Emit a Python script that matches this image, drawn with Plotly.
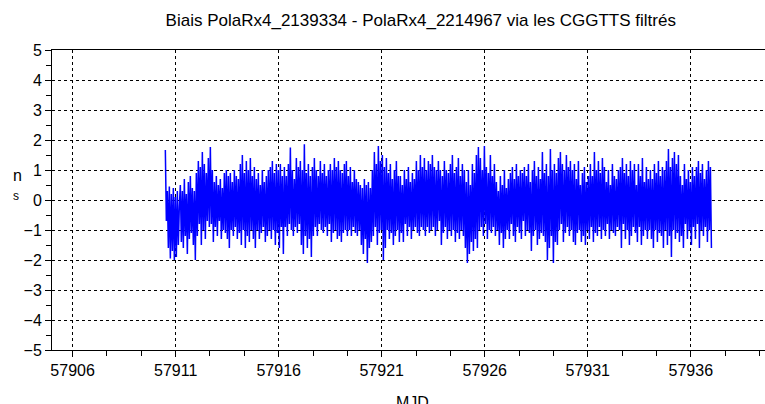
import numpy as np
import plotly.graph_objects as go

# --- data ---
title_text = "Biais PolaRx4_2139334 - PolaRx4_2214967 via les CGGTTS filtrés"
x_label = "MJD"
y_label_top = "n"
y_label_bottom = "s"
mjd_start = 57910.5
mjd_end = 57937.0
x_tick_values = [57906, 57911, 57916, 57921, 57926, 57931, 57936]
y_tick_values = [-5, -4, -3, -2, -1, 0, 1, 2, 3, 4, 5]

bias_ns = [
    1.67, -0.70, 0.30, -1.60, 0.45, -1.95, 0.20, -1.70, 0.40, -2.00,
    0.10, -1.90, 0.30, -1.50, -0.20,
    0.50, -1.40, 0.30, -1.60, 0.70, -1.20, 0.20, -1.80, 0.60, -1.30, 0.80, -1.10, 0.40, -1.50, 0.30,
    -2.00, 0.90, -1.20, 1.30, -0.80, 1.10, -1.50, 1.60, -1.00, 1.20, -1.30, 0.90, -0.70, 1.40, -0.90,
    1.77, -0.80, 1.00, -1.40, 0.60, -0.90, 0.80, -1.20, 0.50, -0.70, 0.70, -1.30, 0.40, -1.00, 0.90,
    -1.10, 1.00, -1.30, 0.80, -1.60, 0.90, -1.00, 0.60, -1.20, 1.00, -0.90, 0.80, -1.30, 0.70, -1.10,
    1.20, -1.50, 1.50, -1.00, 0.90, -1.60, 1.30, -1.20, 1.00, -1.40, 1.40, -1.00, 0.80, -1.30, 1.10,
    -1.60, 0.70, -1.00, 0.90, -1.30, 0.50, -1.10, 1.00, -0.90, 0.60, -1.40, 0.80, -1.20, 1.00, -1.00,
    1.10, -1.30, 1.30, -1.00, 0.90, -1.50, 1.20, -1.10, 1.00, -1.60, 1.20, -0.90, 0.80, -1.80, 1.10,
    -0.90, 0.80, -1.20, 1.20, -0.80, 1.75, -1.00, 1.00, -1.20, 0.70, -0.90, 1.40, -1.10, 1.10, -0.80,
    1.30, -1.50, 1.00, -1.80, 1.86, -1.20, 0.90, -1.60, 1.20, -1.30, 0.80, -1.90, 1.10, -1.20, 1.40,
    -0.90, 1.00, -1.20, 0.80, -0.80, 1.30, -1.00, 0.90, -1.10, 1.20, -0.90, 0.80, -1.20, 1.00, -0.80,
    1.20, -1.40, 1.00, -1.10, 1.40, -1.00, 1.10, -1.30, 1.30, -1.20, 1.00, -1.40, 0.90, -1.10, 1.20,
    -1.00, 1.30, -1.20, 0.80, -1.00, 1.10, -1.20, 0.60, -0.90, 1.00, -1.10, 0.70, -1.20, 0.60, -1.00,
    0.50, -1.50, 0.40, -1.80, 0.70, -1.30, 0.50, -2.10, 0.60, -1.60, 0.40, -1.40,
    1.00, -1.20, 1.60, -0.90, 1.20, -1.50, 1.80, -1.10, 1.30, -1.00, 1.50, -2.00, 1.10,
    -1.60, 1.40, -1.00, 0.90, -1.30, 1.20, -1.10, 0.70, -1.50, 1.00, -1.20, 1.30, -1.00, 0.80, -1.40,
    0.80, -1.10, 0.50, -1.40, 1.00, -0.80, 0.70, -1.20, 1.10, -0.90, 0.60, -1.30, 0.90, -1.00, 0.70,
    -0.90, 1.30, -1.10, 1.00, -1.20, 1.50, -0.90, 1.10, -1.00, 1.40, -1.20, 1.00,
    -0.90, 1.30, -1.10, 1.20, -1.00, 1.50, -0.90, 1.10, -1.20, 1.00, -1.00, 1.30,
    -0.70, 1.00, -1.50, 0.80, -1.10, 1.30, -0.90, 1.00, -1.30, 0.90, -1.00,
    1.20, -1.20, 1.50, -1.00, 0.90, -1.40, 1.10, -1.10, 1.40, -1.30, 0.80, -1.00, 1.20, -1.20, 1.00,
    -1.60, 0.60, -2.10, 1.00, -1.80, 0.50, -1.40, 1.20, -1.70, 0.90, -1.30, 1.50, -1.60, 1.77, -1.00,
    1.40, -0.90, 1.00, -1.20, 1.80, -0.80, 1.10, -1.30, 0.90, -1.00, 1.50, -1.10, 0.80, -0.90, 1.20,
    -1.20, 0.60, -1.00, 0.30, -1.50, 0.80, -1.10, 0.50, -1.60, 1.00, -1.30, 0.40, -1.00, 0.70, -1.30,
    0.90, -0.80, 1.10, -1.20, 0.70, -1.40, 1.20, -0.90, 0.80, -1.10,
    1.00, -1.30, 0.90, -0.70, 1.10, -1.20, 0.80, -1.00, 1.20, -1.10,
    0.60, -1.70, 1.00, -1.20, 1.30, -1.00, 0.80, -1.50, 1.10, -1.30, 0.70, -1.10, 1.60, -1.20, 0.90,
    -1.40, 1.20, -2.00, 0.80, -1.60, 1.70, -1.20, 1.00, -2.10, 1.20, -1.40, 0.90, -1.50,
    1.40, -1.00, 1.60, -0.80, 1.20, -1.40, 1.00, -1.10, 1.50, -0.90, 1.10, -1.20, 1.30, -1.00, 1.00, -1.40, 1.20,
    -1.50, 0.70, -1.10, 1.30, -1.00, 0.50, -1.40, 0.90, -1.20, 1.10, -1.50, 0.60, -1.00, 0.80, -1.30,
    1.20, -0.90, 0.80, -1.40, 1.60, -1.10, 1.00, -1.20, 1.30, -0.90, 0.90, -1.30, 1.40, -1.00, 1.10,
    -1.20, 0.60, -0.80, 1.00, -1.30, 0.50, -1.00, 1.20, -1.10, 0.80, -1.20, 0.70, -0.90, 1.00, -1.00,
    1.10, -1.60, 1.40, -0.80, 0.90, -1.30, 1.20, -1.00, 0.80, -1.50, 1.30, -1.20, 1.00, -0.90, 1.20,
    -1.10, 0.50, -1.40, 1.20, -0.90, 0.80, -1.50, 1.40, -1.20, 0.60, -1.00, 1.10, -1.30, 0.70, -1.00,
    1.00, -1.30, 0.70, -1.60, 1.20, -1.00, 0.90, -1.40, 1.30, -1.10, 0.80, -1.20, 1.10, -1.60, 1.00,
    -1.00, 1.30, -1.50, 1.70, -1.20, 1.10, -1.90, 1.40, -1.00, 1.60, -1.30, 1.20, -1.10, 1.50, -1.40,
    0.80, -1.20, 0.50, -1.60, 1.20, -0.80, 0.70, -1.30, 1.00, -1.00, 0.60, -1.50, 1.10, -0.90, 0.80,
    -1.30, 1.10, -0.80, 1.30, -1.60, 0.90, -1.00, 1.20, -1.20, 0.70, -0.90, 1.00, -1.40, 1.30, -1.00, 1.10, -1.60,
]

# regularly sampled epochs over the observed span
mjd = np.linspace(mjd_start, mjd_end, len(bias_ns))

font_family = "Liberation Sans, Arial, sans-serif"

fig = go.Figure()
fig.add_trace(go.Scatter(
    x=mjd, y=bias_ns, mode="lines",
    line=dict(color="#0000ff", width=1.5),
    showlegend=False, hoverinfo="skip",
))

fig.update_layout(
    width=765, height=404,
    margin=dict(l=52, r=0, t=50, b=54),
    paper_bgcolor="white", plot_bgcolor="white",
    font=dict(family=font_family, size=16, color="black"),
    title=dict(text=title_text, x=0.55, xanchor="center",
               y=1 - 20 / 404, yanchor="middle",
               font=dict(family=font_family, size=17, color="black")),
)

fig.update_xaxes(
    range=[57905, 57939.6],
    tickmode="array", tickvals=x_tick_values,
    ticktext=[str(v) for v in x_tick_values],
    ticks="outside", ticklen=6, tickwidth=1, tickcolor="black",
    showline=True, linecolor="black", linewidth=1, mirror=True,
    showgrid=True, gridcolor="black", gridwidth=1, griddash="3px,3px",
    zeroline=False,
    minor=dict(tick0=57906, dtick=5 / 3, ticks="outside", ticklen=5,
               tickcolor="black", showgrid=False),
    tickfont=dict(family=font_family, size=16, color="black"),
)
fig.update_yaxes(
    range=[-5, 5],
    tickmode="array", tickvals=y_tick_values,
    ticktext=[str(v).replace("-", "\u2212") for v in y_tick_values],
    ticks="outside", ticklen=6, tickwidth=1, tickcolor="black",
    showline=True, linecolor="black", linewidth=1,
    showgrid=True, gridcolor="black", gridwidth=1, griddash="3px,3px",
    zeroline=False,
    minor=dict(tick0=0, dtick=0.5, ticks="outside", ticklen=5,
               tickcolor="black", showgrid=False),
    tickfont=dict(family=font_family, size=16, color="black"),
)

fig.add_annotation(text=y_label_top, xref="paper", yref="paper",
                   x=-(52 - 17) / 713, y=(350 - 175) / 300,
                   showarrow=False, xanchor="center", yanchor="middle",
                   font=dict(family=font_family, size=16, color="black"))
fig.add_annotation(text=y_label_bottom, xref="paper", yref="paper",
                   x=-(52 - 16) / 713, y=(350 - 196) / 300,
                   showarrow=False, xanchor="center", yanchor="middle",
                   font=dict(family=font_family, size=12, color="black"))
fig.add_annotation(text=x_label, xref="paper", yref="paper",
                   x=(412 - 52) / 713, y=-(392 - 350) / 300,
                   showarrow=False, xanchor="center", yanchor="top",
                   font=dict(family=font_family, size=16, color="black"))

fig.write_html(
    "out.html",
    config={"displayModeBar": False},
    post_script="document.body.style.margin='0';document.body.style.overflow='hidden';",
)
